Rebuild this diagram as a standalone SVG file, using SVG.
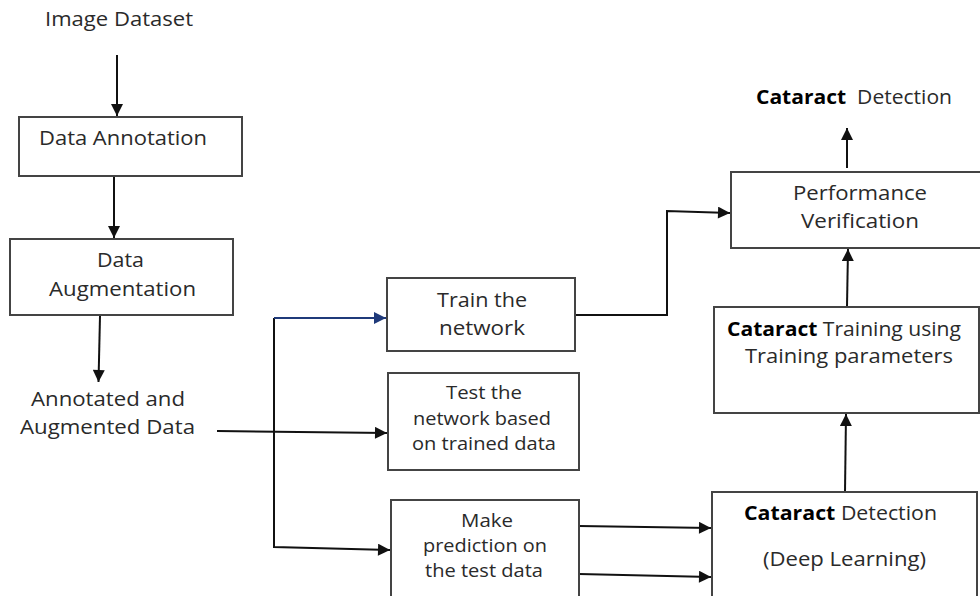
<svg xmlns="http://www.w3.org/2000/svg" width="980" height="596" viewBox="0 0 980 596">
<defs>
<style>
text{font-family:"Open Sans","Liberation Sans",sans-serif;font-size:20px;fill:#2a2a2a;text-anchor:middle}
.s{font-size:18px}
.b{font-weight:bold;fill:#000}
.box{fill:#fff;stroke:#444;stroke-width:2}
.ln{fill:none;stroke:#111;stroke-width:2}
.blue{fill:none;stroke:#1f3a7a;stroke-width:2}
</style>
<marker id="ah" viewBox="0 0 10 10" refX="10" refY="5" markerWidth="13" markerHeight="12" markerUnits="userSpaceOnUse" orient="auto"><path d="M0,0 L10,5 L0,10 z" fill="#111"/></marker>
<marker id="ahb" viewBox="0 0 10 10" refX="10" refY="5" markerWidth="13" markerHeight="12" markerUnits="userSpaceOnUse" orient="auto"><path d="M0,0 L10,5 L0,10 z" fill="#1f3a7a"/></marker>
</defs>
<rect width="980" height="596" fill="#fff"/>
<g id="connectors">
<line class="ln" x1="117" y1="55" x2="117" y2="116" marker-end="url(#ah)"/>
<line class="ln" x1="114" y1="177" x2="114" y2="238" marker-end="url(#ah)"/>
<line class="ln" x1="100" y1="316" x2="98.5" y2="382" marker-end="url(#ah)"/>
<line class="ln" x1="217" y1="431" x2="387" y2="433" marker-end="url(#ah)"/>
<polyline class="ln" points="274,318 274,547 390,550" marker-end="url(#ah)"/>
<line class="blue" x1="274" y1="318" x2="386" y2="318" marker-end="url(#ahb)"/>
<polyline class="ln" points="576,315 667,315 667,211 730,213" marker-end="url(#ah)"/>
<line class="ln" x1="579" y1="526" x2="711" y2="528" marker-end="url(#ah)"/>
<line class="ln" x1="579" y1="574" x2="711" y2="577" marker-end="url(#ah)"/>
<line class="ln" x1="845" y1="492" x2="846" y2="414" marker-end="url(#ah)"/>
<line class="ln" x1="847" y1="307" x2="848" y2="249" marker-end="url(#ah)"/>
<line class="ln" x1="847" y1="168" x2="847" y2="128" marker-end="url(#ah)"/>
</g>
<g id="image-dataset"><text x="119" y="26" textLength="148" lengthAdjust="spacingAndGlyphs">Image Dataset</text></g>
<g id="data-annotation"><rect class="box" x="19" y="117" width="223" height="59"/><text x="123" y="145" textLength="168" lengthAdjust="spacingAndGlyphs">Data Annotation</text></g>
<g id="data-augmentation"><rect class="box" x="10" y="239" width="223" height="76"/><text x="120.5" y="267" textLength="47" lengthAdjust="spacingAndGlyphs">Data</text><text x="122.5" y="296" textLength="147" lengthAdjust="spacingAndGlyphs">Augmentation</text></g>
<g id="annotated-data"><text x="108" y="406" textLength="154" lengthAdjust="spacingAndGlyphs">Annotated and</text><text x="107.5" y="434" textLength="175" lengthAdjust="spacingAndGlyphs">Augmented Data</text></g>
<g id="train"><rect class="box" x="387" y="278" width="188" height="73"/><text x="482" y="307" textLength="90" lengthAdjust="spacingAndGlyphs">Train the</text><text x="482" y="335" textLength="86" lengthAdjust="spacingAndGlyphs">network</text></g>
<g id="test"><rect class="box" x="388" y="373" width="191" height="97"/><text class="s" x="484" y="399" textLength="76" lengthAdjust="spacingAndGlyphs">Test the</text><text class="s" x="482" y="425" textLength="138" lengthAdjust="spacingAndGlyphs">network based</text><text class="s" x="484" y="450" textLength="144" lengthAdjust="spacingAndGlyphs">on trained data</text></g>
<g id="predict"><rect class="box" x="391" y="500" width="188" height="100"/><text class="s" x="487" y="527" textLength="52" lengthAdjust="spacingAndGlyphs">Make</text><text class="s" x="485" y="552" textLength="124" lengthAdjust="spacingAndGlyphs">prediction on</text><text class="s" x="484" y="577" textLength="118" lengthAdjust="spacingAndGlyphs">the test data</text></g>
<g id="detection-dl"><rect class="box" x="712" y="492" width="265" height="110"/><text x="840.5" y="520" textLength="193" lengthAdjust="spacingAndGlyphs"><tspan class="b">Cataract</tspan> Detection</text><text x="844.5" y="566" textLength="163" lengthAdjust="spacingAndGlyphs">(Deep Learning)</text></g>
<g id="training"><rect class="box" x="714" y="307" width="265" height="106"/><text x="844" y="336" textLength="234" lengthAdjust="spacingAndGlyphs"><tspan class="b">Cataract</tspan> Training using</text><text x="849" y="363" textLength="208" lengthAdjust="spacingAndGlyphs">Training parameters</text></g>
<g id="performance"><rect class="box" x="731" y="172" width="260" height="76"/><text x="860" y="200" textLength="134" lengthAdjust="spacingAndGlyphs">Performance</text><text x="860" y="228" textLength="118" lengthAdjust="spacingAndGlyphs">Verification</text></g>
<g id="cataract-detection"><text x="854" y="104" textLength="196" lengthAdjust="spacingAndGlyphs" xml:space="preserve"><tspan class="b">Cataract</tspan>  Detection</text></g>
</svg>
